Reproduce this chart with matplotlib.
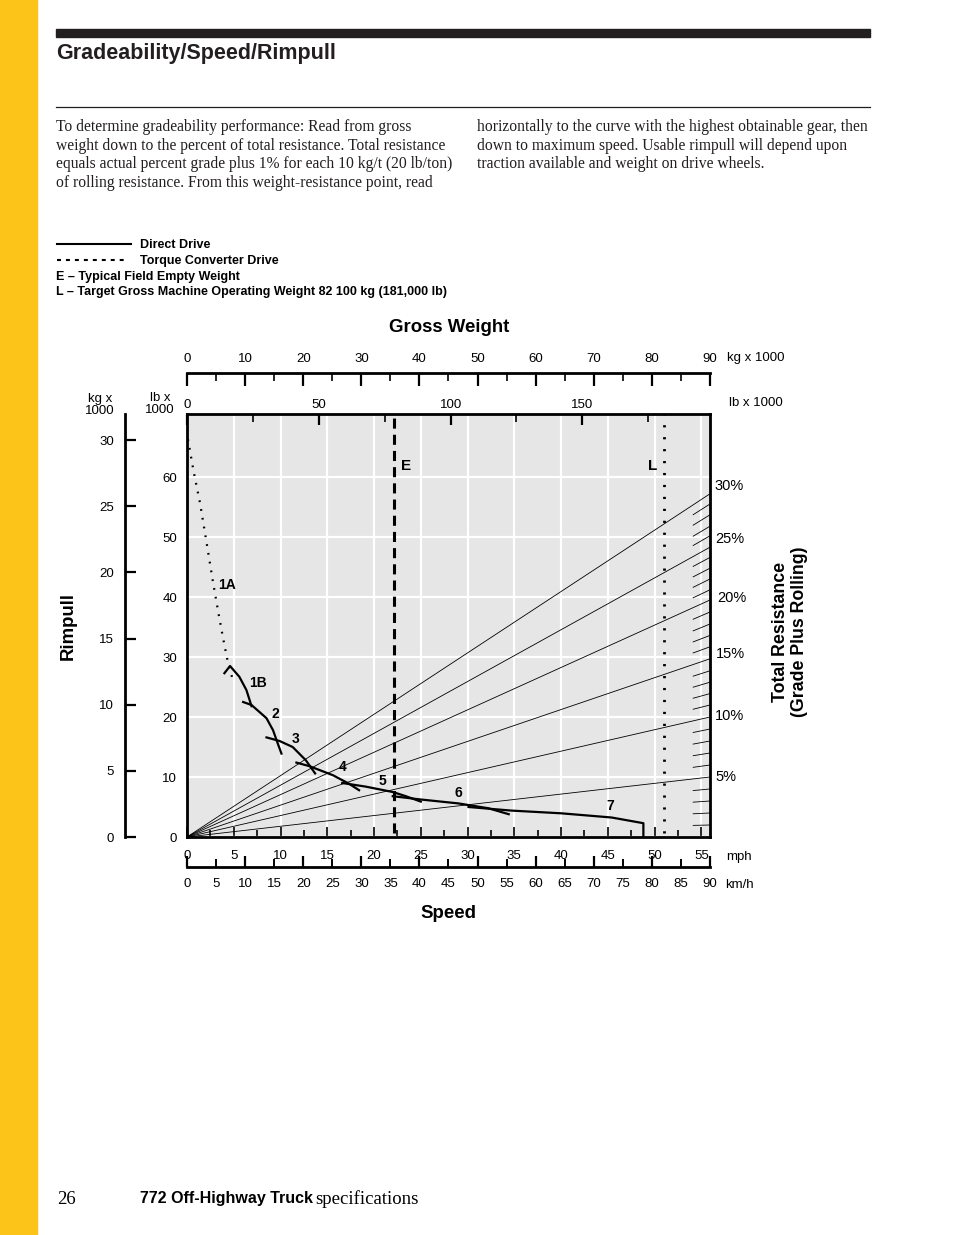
import numpy as np
import matplotlib
matplotlib.use("Agg")
import matplotlib.pyplot as plt
from matplotlib.lines import Line2D

W, H = 954, 1235

# rimpull curves, (mph, lb x 1000)
gear_1a = [(0.1, 66.3), (0.7, 61.0), (1.4, 55.6), (2.1, 49.0), (2.8, 42.3),
           (3.4, 37.0), (3.9, 32.8), (4.4, 28.9), (4.9, 26.2)]
gear_1b = [(4.0, 27.3), (4.6, 28.5), (5.6, 26.7), (6.35, 24.5), (6.7, 22.8), (6.9, 21.8)]
gear_2 = [(6.0, 22.5), (6.9, 22.0), (8.5, 19.8), (9.2, 17.8), (9.7, 15.6), (10.1, 13.9)]
gear_3 = [(8.5, 16.6), (9.9, 16.0), (11.3, 15.0), (12.7, 12.8), (13.7, 10.6)]
gear_4 = [(11.7, 12.4), (13.1, 11.8), (15.6, 10.3), (17.3, 8.9), (18.4, 7.8)]
gear_5 = [(16.6, 9.0), (19.1, 8.4), (22.0, 7.5), (23.4, 6.8), (25.0, 5.9)]
gear_6 = [(22.0, 6.8), (25.0, 6.25), (29.0, 5.6), (32.2, 4.8), (34.4, 3.8)]
gear_7 = [(30.1, 5.0), (34.7, 4.4), (40.0, 3.95), (45.4, 3.25), (48.8, 2.3), (48.8, 0.0)]
gears = [gear_1a, gear_1b, gear_2, gear_3, gear_4, gear_5, gear_6, gear_7]
gear_names = ["1A", "1B", "2", "3", "4", "5", "6", "7"]
gear_label_pos = [(4.3, 42.0), (7.6, 25.7), (9.4, 20.5), (11.6, 16.3),
                  (16.6, 11.7), (20.9, 9.3), (29.0, 7.3), (45.3, 5.2)]

# total resistance lines: rimpull (lb x 1000) at right edge for 1..30 %
resist_pct = list(range(1, 31))
resist_end = [2.0, 4.0, 6.0, 8.0, 10.0, 12.0, 14.0, 16.0, 18.0, 20.0,
              22.0, 23.9, 25.8, 27.7, 29.7, 31.7, 33.6, 35.5, 37.5, 39.5,
              41.2, 43.0, 44.8, 46.6, 48.3, 50.2, 51.8, 53.7, 55.5, 57.2]
resist_labels = ["5%", "10%", "15%", "20%", "25%", "30%"]
resist_label_y = [10.0, 20.2, 30.5, 39.8, 49.7, 58.5]
resist_label_x = [715, 715, 716, 717, 715, 714]

empty_klb = 78.5      # E
target_klb = 181.0    # L

MPH_MAX = 90 / 1.609344
KLB_MAX = 70.5
GW_KG_MAX = 90
GW_LB_MAX = 90 * 2.20462

yellow = "#FCC418"
bg = "#E6E6E6"
sans = ["Liberation Sans", "DejaVu Sans"]
serif = ["Liberation Serif", "DejaVu Serif"]

plt.rcParams["font.family"] = sans


def fx(x):
    return x / W


def fy(y):
    return 1 - y / H


fig = plt.figure(figsize=(W / 100, H / 100), dpi=100)

# page furniture
fig.patches.append(plt.Rectangle((0, 0), fx(37), 1, transform=fig.transFigure,
                                 color=yellow, zorder=0))
fig.patches.append(plt.Rectangle((fx(56), fy(37)), fx(870) - fx(56), fy(29) - fy(37),
                                 transform=fig.transFigure, color="#231F20"))
fig.lines.append(Line2D([fx(56), fx(870)], [fy(107), fy(107)], transform=fig.transFigure,
                        color="#231F20", lw=0.9))
fig.text(fx(56), fy(54), "Gradeability/Speed/Rimpull", weight="bold",
         fontsize=15.5, va="center", color="#231F20")

left_col = ["To determine gradeability performance: Read from gross",
            "weight down to the percent of total resistance. Total resistance",
            "equals actual percent grade plus 1% for each 10 kg/t (20 lb/ton)",
            "of rolling resistance. From this weight-resistance point, read"]
right_col = ["horizontally to the curve with the highest obtainable gear, then",
             "down to maximum speed. Usable rimpull will depend upon",
             "traction available and weight on drive wheels."]
for i, s in enumerate(left_col):
    fig.text(fx(56), fy(127 + 18.7 * i), s, family=serif, fontsize=11.25, va="center",
             color="#231F20")
for i, s in enumerate(right_col):
    fig.text(fx(477), fy(127 + 18.7 * i), s, family=serif, fontsize=11.25, va="center",
             color="#231F20")

# legend
fig.lines.append(Line2D([fx(57), fx(131)], [fy(244), fy(244)], transform=fig.transFigure,
                        color="black", lw=1.5))
fig.lines.append(Line2D([fx(57), fx(127)], [fy(260), fy(260)], transform=fig.transFigure,
                        color="black", lw=1.5, dashes=(1.9, 2.4)))
fig.text(fx(140), fy(245), "Direct Drive", weight="bold", fontsize=9, va="center")
fig.text(fx(140), fy(261), "Torque Converter Drive", weight="bold", fontsize=9, va="center")
fig.text(fx(56), fy(277), "E \u2013 Typical Field Empty Weight", weight="bold",
         fontsize=9, va="center")
fig.text(fx(56), fy(292), "L \u2013 Target Gross Machine Operating Weight 82 100 kg (181,000 lb)",
         weight="bold", fontsize=9, va="center")

# main chart
ax = fig.add_axes([fx(187), fy(837), fx(710) - fx(187), fy(414) - fy(837)])
ax.set_facecolor(bg)
ax.set_xlim(0, MPH_MAX)
ax.set_ylim(0, KLB_MAX)
for sp in ax.spines.values():
    sp.set_linewidth(2)
ax.set_xticks(np.arange(0, 56, 5))
ax.set_xticks(np.arange(2.5, 56, 5), minor=True)
ax.set_yticks(np.arange(0, 61, 10))
ax.grid(True, which="major", color="white", lw=1.6)
ax.set_axisbelow(True)
ax.tick_params(axis="x", which="major", direction="in", length=7, width=1.2,
               labelsize=9.5, pad=9.5)
ax.tick_params(axis="x", which="minor", direction="in", length=5, width=1.2)
ax.tick_params(axis="y", which="major", length=0, labelsize=9.5, pad=7)

# resistance lines and hatches at right edge
for p, yend in zip(resist_pct, resist_end):
    if p % 5 == 0:
        ax.plot([0, MPH_MAX], [0, yend], color="black", lw=0.6, zorder=2)
    else:
        x0 = MPH_MAX - 1.8
        ax.plot([x0, MPH_MAX], [yend * x0 / MPH_MAX, yend], color="black", lw=0.6, zorder=2)

# rimpull curves
for i, g in enumerate(gears):
    xs, ys = zip(*g)
    if i == 0:
        ax.plot(xs, ys, color="black", lw=1.6, linestyle=(0, (0.8, 3.2)), zorder=4)
    else:
        ax.plot(xs, ys, color="black", lw=1.6, zorder=4)
for name, (lx, ly) in zip(gear_names, gear_label_pos):
    ax.text(lx, ly, name, weight="bold", fontsize=10, ha="center", va="center", zorder=5)

# gross weight lb axis on top of plot
axw = ax.twiny()
axw.set_xlim(0, GW_LB_MAX)
axw.set_xticks([0, 50, 100, 150])
axw.set_xticks([25, 75, 125, 175], minor=True)
axw.tick_params(axis="x", which="major", direction="in", length=8, width=1.6,
                labelsize=9.5, pad=2)
axw.tick_params(axis="x", which="minor", direction="in", length=6, width=1.2)
axw.plot([empty_klb, empty_klb], [0.6, KLB_MAX], color="black", lw=2.2,
         dashes=(3.3, 2.0), zorder=3)
axw.plot([target_klb, target_klb], [0.6, KLB_MAX], color="black", lw=2,
         linestyle=(0, (0.8, 3.5)), zorder=3)
axw.set_ylim(0, KLB_MAX)
axw.text(empty_klb + 2.5, 61.8, "E", weight="bold", fontsize=11, va="center")
axw.text(target_klb - 2.5, 61.8, "L", weight="bold", fontsize=11, va="center", ha="right")

# percent labels on the right
for lab, lx, ly in zip(resist_labels, resist_label_x, resist_label_y):
    fig.text(fx(lx), fy(837 - ly * 6.0), lab, fontsize=10.5, va="center")

# gross weight kg axis above
axk = fig.add_axes([fx(187), fy(380), fx(710) - fx(187), fy(373) - fy(380)])
axk.patch.set_visible(False)
for s in ["bottom", "left", "right"]:
    axk.spines[s].set_visible(False)
axk.spines["top"].set_linewidth(2)
axk.set_xlim(0, GW_KG_MAX)
axk.set_yticks([])
axk.xaxis.tick_top()
axk.set_xticks(np.arange(0, 91, 10))
axk.set_xticks(np.arange(5, 90, 10), minor=True)
axk.tick_params(axis="x", which="major", direction="in", length=9, width=1.6,
                labelsize=9.5, pad=5.5)
axk.tick_params(axis="x", which="minor", direction="in", length=6, width=1.2)

# speed km/h axis below
axs = fig.add_axes([fx(187), fy(867), fx(710) - fx(187), fy(860) - fy(867)])
axs.patch.set_visible(False)
for s in ["top", "left", "right"]:
    axs.spines[s].set_visible(False)
axs.spines["bottom"].set_linewidth(2)
axs.set_xlim(0, 90)
axs.set_yticks([])
axs.set_xticks(np.arange(0, 91, 10))
axs.set_xticks(np.arange(5, 90, 10), minor=True)
axs.tick_params(axis="x", which="major", direction="in", length=8, width=1.6,
                labelsize=9.5, pad=8)
axs.tick_params(axis="x", which="minor", direction="in", length=5.5, width=1.4,
                labelsize=9.5, pad=8)
axs.xaxis.set_minor_formatter(matplotlib.ticker.FormatStrFormatter("%d"))

# rimpull kg axis at left
axr = fig.add_axes([fx(125), fy(837), fx(131) - fx(125), fy(414) - fy(837)])
axr.patch.set_visible(False)
for s in ["top", "bottom", "right"]:
    axr.spines[s].set_visible(False)
axr.spines["left"].set_linewidth(2)
axr.set_ylim(0, KLB_MAX / 2.20462)
axr.set_xticks([])
axr.set_yticks(np.arange(0, 31, 5))
axr.tick_params(axis="y", direction="in", length=8, width=1.6, labelsize=9.5, pad=8)

# unit and axis titles
unit_kw = dict(fontsize=9.5)
fig.text(fx(727), fy(358), "kg x 1000", va="center", **unit_kw)
fig.text(fx(729), fy(403), "lb x 1000", va="center", **unit_kw)
fig.text(fx(726), fy(857), "mph", va="center", **unit_kw)
fig.text(fx(725), fy(885), "km/h", va="center", **unit_kw)
fig.text(fx(100), fy(405), "kg x\n1000", ha="center", va="center", linespacing=1.1, **unit_kw)
fig.text(fx(160), fy(404), "lb x\n1000", ha="center", va="center", linespacing=1.1, **unit_kw)
fig.text(fx(449), fy(328), "Gross Weight", weight="bold", fontsize=13.4, ha="center",
         va="center")
fig.text(fx(448), fy(913), "Speed", weight="bold", fontsize=13.4, ha="center", va="center")
fig.text(fx(68), fy(626), "Rimpull", weight="bold", fontsize=13.4, ha="center",
         va="center", rotation=90)
fig.text(fx(790), fy(632), "Total Resistance\n(Grade Plus Rolling)", weight="bold",
         fontsize=12.8, ha="center", va="center", rotation=90, linespacing=1.1)

# footer
fig.text(fx(57), fy(1200), "26", family=serif, fontsize=13.5, va="center")
fig.text(fx(140), fy(1199), "772 Off-Highway Truck", weight="bold",
         fontsize=11.5, va="center")
fig.text(fx(315), fy(1199), "specifications", family=serif, fontsize=13.5, va="center")

fig.savefig("out.png", dpi=100)
